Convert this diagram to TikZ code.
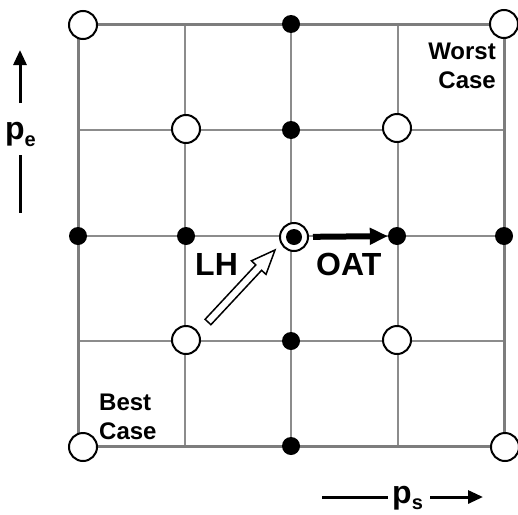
\documentclass[tikz,border=0pt]{standalone}
\usepackage{fontspec}
\setmainfont{Liberation Sans}
\usetikzlibrary{arrows.meta}
\definecolor{gridgray}{RGB}{140,140,140}
\definecolor{bordergray}{RGB}{125,125,125}
\begin{document}
\begin{tikzpicture}[x=1pt,y=-1pt,
  gridline/.style={draw=gridgray, line width=2pt},
  borderline/.style={draw=bordergray, line width=3pt},
  opencirc/.style={circle, draw=black, fill=white, line width=2pt, minimum size=28pt, inner sep=0pt},
  fulldot/.style={circle, fill=black, minimum size=18pt, inner sep=0pt},
  biglbl/.style={font=\fontsize{32}{32}\selectfont\bfseries, inner sep=0pt},
  cornerlbl/.style={font=\fontsize{24}{28.5}\selectfont\bfseries, inner sep=0pt},
  axislbl/.style={font=\fontsize{32}{32}\selectfont\bfseries, inner sep=0pt},
  axisline/.style={draw=black, line width=3pt},
  axisarrow/.style={draw=black, line width=3pt, -{Triangle[length=15pt,width=13pt]}},
  oatarrow/.style={draw=black, line width=6pt, -{Triangle[length=18pt,width=16pt]}},
  hollow/.style={draw=black, fill=white, line width=1.5pt, line join=miter}
]
\useasboundingbox (0,0) rectangle (518,514);

% grid
\foreach \x in {185,291,398} \draw[gridline] (\x,24) -- (\x,446);
\foreach \y in {130,236,341} \draw[gridline] (78,\y) -- (504,\y);
\draw[borderline] (78,24) rectangle (504,446);

% open circles
\node[opencirc] (tl) at (83,25) {};
\node[opencirc] (tr) at (504,24) {};
\node[opencirc] (bl) at (83,447) {};
\node[opencirc] (br) at (505,447) {};
\node[opencirc] (o1) at (186,129) {};
\node[opencirc] (o2) at (397,128) {};
\node[opencirc] (o3) at (186,340) {};
\node[opencirc] (o4) at (397,340) {};

% filled dots
\node[fulldot] (d1) at (78,236) {};
\node[fulldot] (d2) at (186,236) {};
\node[fulldot] (d3) at (291,24) {};
\node[fulldot] (d4) at (291,130) {};
\node[fulldot] (d5) at (291,341) {};
\node[fulldot] (d6) at (291,446) {};
\node[fulldot] (d7) at (397,236) {};
\node[fulldot] (d8) at (504,236) {};

% centre point
\node[opencirc] (c) at (294,237) {};
\node[fulldot, minimum size=16pt] (cdot) at (c) {};

% OAT arrow
\draw[oatarrow, shorten <=4pt] (c) -- (d7);

% LH hollow arrow
\draw[hollow] (205.1,319.3) -- (255.8,264.9) -- (251.4,260.8) -- (275,250)
  -- (266.0,274.4) -- (261.6,270.3) -- (210.9,324.7) -- cycle;

% labels
\node[biglbl, anchor=base west] (lh) at (195,275) {LH};
\node[biglbl, anchor=base west] (oat) at (316,275) {OAT};
\node[cornerlbl, anchor=base east, align=right] (worst) at (496,88) {Worst\\Case};
\node[cornerlbl, anchor=base west, align=left] (best) at (99,439) {Best\\Case};

% axis labels
\node[axislbl, anchor=base west] (pe) at (5,139) {p\raisebox{-7pt}{\fontsize{20}{20}\selectfont e}};
\coordinate (peA) at (20,103);
\coordinate (peB) at (20,50);
\coordinate (peC) at (20,155);
\coordinate (peD) at (20,213);
\draw[axisarrow] (peA) -- (peB);
\draw[axisline] (peC) -- (peD);

\node[axislbl, anchor=base west] (ps) at (392,503) {p\raisebox{-6pt}{\fontsize{20}{20}\selectfont s}};
\coordinate (psA) at (322,497);
\coordinate (psB) at (388,497);
\coordinate (psC) at (430,497);
\coordinate (psD) at (483,497);
\draw[axisline] (psA) -- (psB);
\draw[axisarrow] (psC) -- (psD);
\end{tikzpicture}
\end{document}
